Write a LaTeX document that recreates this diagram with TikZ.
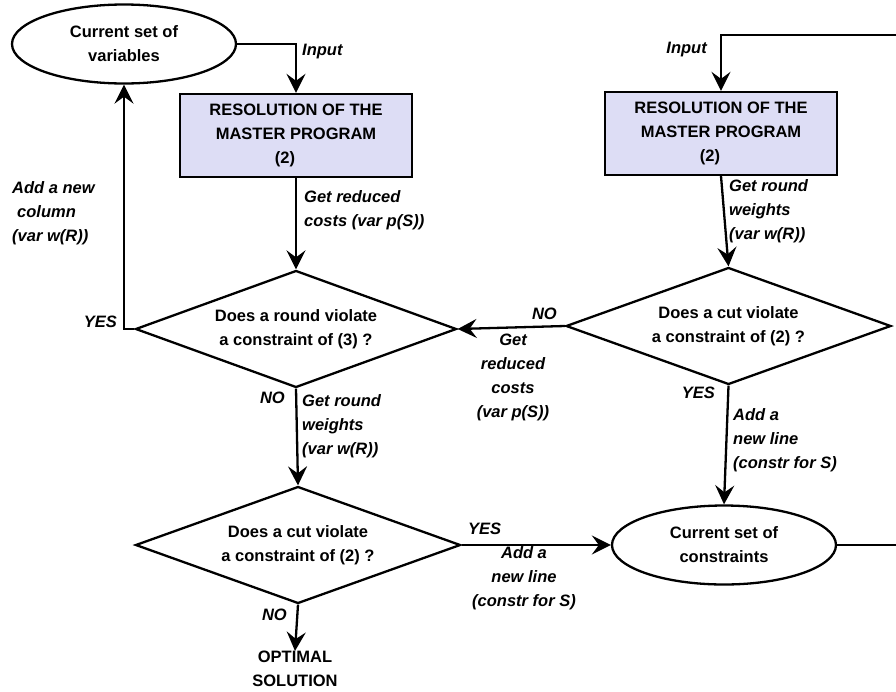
\documentclass[tikz,border=0pt]{standalone}
\usepackage{fontspec}
\setmainfont{Liberation Sans}
\usetikzlibrary{shapes.geometric,arrows.meta}
\definecolor{boxfill}{RGB}{221,221,245}
\begin{document}
\begin{tikzpicture}[x=1pt,y=-1pt,
  >={Stealth[length=19pt,width=19pt,inset=7pt]},
  every node/.style={font=\fontsize{16.5}{24}\selectfont\bfseries, inner sep=0pt},
  lbl/.style={font=\fontsize{16.5}{24}\selectfont\bfseries\itshape},
  arr/.style={line width=2.3pt,->},
  setell/.style={draw,line width=2.3pt,ellipse,minimum width=224pt,minimum height=79pt,align=center},
  master/.style={draw,line width=2.3pt,fill=boxfill,rectangle,minimum width=232pt,minimum height=83pt,align=center},
  test/.style={draw,line width=2.3pt,diamond,aspect=2.8,minimum width=325pt,minimum height=117pt,align=center}]
\useasboundingbox (0,0) rectangle (896,691);

% nodes
\node[setell] (var) at (124,44) {Current set of\\variables};
\node[master] (mp1) at (296,135.5) {RESOLUTION OF THE\\MASTER PROGRAM\\(2)\hspace*{22pt}};
\node[test,minimum width=321pt] (d1) at (296,329) {Does a round violate\\a constraint of (3) ?};
\node[test] (d2) at (298,545) {Does a cut violate\\a constraint of (2) ?};
\node[align=center] (opt) at (295,669) {OPTIMAL\\SOLUTION};
\node[master] (mp2) at (721,133.5) {RESOLUTION OF THE\\MASTER PROGRAM\\(2)\hspace*{22pt}};
\node[test] (d3) at (728.5,326) {Does a cut violate\\a constraint of (2) ?};
\node[setell] (cons) at (724,545) {Current set of\\constraints};

\coordinate (c1) at (900,545);
\coordinate (c2) at (900,35);

% connectors
\draw[arr] (var.east) -| (mp1.north);
\draw[arr] (mp1.south) -- (d1.north);
\draw[arr] (d1.west) -| (var.south);
\draw[arr] (d1.south) -- (d2.north);
\draw[arr] (d2.south) -- (opt.north);
\draw[arr] (d2.east) -- (cons.west);
\draw[arr] (cons.east) -- (c1) -- (c2) -| (mp2.north);
\draw[arr] (mp2.south) -- (d3.north);
\draw[arr] (d3.west) -- (d1.east);
\draw[arr] (d3.south) -- (cons.north);

% labels
\node[lbl,anchor=west] (l1) at (302,52) {Input};
\node[lbl,anchor=east] (l2) at (707,50) {Input};
\node[lbl,anchor=north west,align=left] (l3) at (304,190.5) {Get reduced\\costs (var p(S))};
\node[lbl,anchor=north west,align=left] (l4) at (12,181.5) {Add a new\\\hspace*{5pt}column\\(var w(R))};
\node[lbl,anchor=east] (l5) at (117,322) {YES};
\node[lbl,anchor=east] (l6) at (285,398) {NO};
\node[lbl,anchor=north west,align=left] (l7) at (302,394.5) {Get round\\weights\\(var w(R))};
\node[lbl,anchor=east] (l8) at (287,615) {NO};
\node[lbl,anchor=west] (l9) at (468,529) {YES};
\node[lbl,anchor=north,align=center] (l10) at (524,546.5) {Add a\\new line\\(constr for S)};
\node[lbl,anchor=north west,align=left] (l11) at (729,179.5) {Get round\\weights\\(var w(R))};
\node[lbl,anchor=east] (l12) at (557,314) {NO};
\node[lbl,anchor=north,align=center] (l13) at (513,333.5) {Get\\reduced\\costs\\(var p(S))};
\node[lbl,anchor=east] (l14) at (715,393) {YES};
\node[lbl,anchor=north west,align=left] (l15) at (733,408.5) {Add a\\new line\\(constr for S)};
\end{tikzpicture}
\end{document}
